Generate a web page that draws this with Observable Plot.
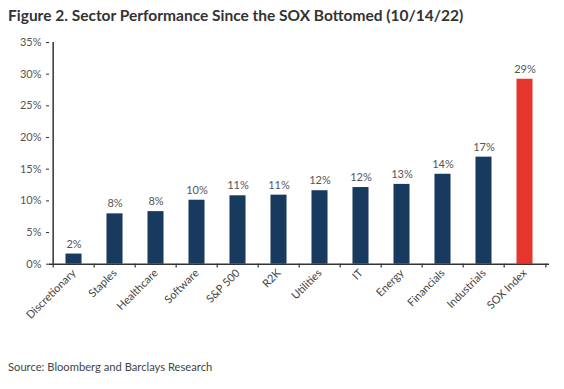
<!DOCTYPE html>
<html>
<head>
<meta charset="utf-8">
<script src="https://cdn.jsdelivr.net/npm/d3@7"></script>
<script src="https://cdn.jsdelivr.net/npm/@observablehq/plot@0.6"></script>
<style>
  html, body { margin: 0; padding: 0; background: #fff; }
  body { width: 564px; height: 389px; overflow: hidden; font-family: Lato, "Open Sans", sans-serif; }
  #title { height: 30px; box-sizing: border-box; padding: 5px 0 0 8px; font-size: 15.5px; line-height: 20px; font-weight: bold; color: #333; }
  #source { padding: 30px 0 0 8px; font-size: 11.2px; line-height: 14px; color: #444; }
</style>
</head>
<body>
<div id="title">Figure 2. Sector Performance Since the SOX Bottomed (10/14/22)</div>
<div id="chart"></div>
<div id="source">Source: Bloomberg and Barclays Research</div>
<script>
const sectors = ["Discretionary", "Staples", "Healthcare", "Software", "S&P 500", "R2K", "Utilities", "IT", "Energy", "Financials", "Industrials", "SOX Index"];
const performance = [1.6, 7.95, 8.3, 10.1, 10.8, 10.9, 11.6, 12.1, 12.6, 14.2, 16.9, 29.2];
const highlight = ["SOX Index"];
const yTicks = [0, 5, 10, 15, 20, 25, 30, 35];

const data = sectors.map((s, i) => ({sector: s, value: performance[i]}));

const width = 564, marginLeft = 49, marginRight = 15;
const bw = (width - marginLeft - marginRight) / sectors.length;
const inset = (bw - 16.7) / 2;

const chart = Plot.plot({
  width,
  height: 300,
  marginLeft,
  marginRight,
  marginTop: 12,
  marginBottom: 66.3,
  style: {fontFamily: "Lato, 'Open Sans', sans-serif", fontSize: "11px", color: "#555", background: "#fff"},
  x: {domain: sectors, padding: 0, label: null},
  y: {domain: [0, 35], label: null},
  marks: [
    Plot.barY(data, {
      x: "sector", y: "value",
      fill: d => highlight.includes(d.sector) ? "#e6352b" : "#173a5e",
      insetLeft: inset, insetRight: inset
    }),
    Plot.text(data, {
      x: "sector", y: "value", text: d => Math.round(d.value) + "%",
      dy: -10, fill: "#555555", fontSize: 11
    }),
    Plot.axisY({ticks: yTicks, tickFormat: d => d + "%", tickSize: 3, tickPadding: 5, stroke: "#333", fill: "#555", fontSize: 11}),
    Plot.axisX({tickSize: 0, tickRotate: -45, tickPadding: 7, fill: "#444", fontSize: 11}),
    Plot.ruleX([sectors[0]], {dx: -bw / 2, y1: 0, y2: 35, stroke: "#333", strokeWidth: 1.5}),
    Plot.ruleY([0], {stroke: "#333", strokeWidth: 1.5}),
    Plot.ruleX(sectors, {dx: -bw / 2, y1: 0, y2: -0.6, stroke: "#333", strokeWidth: 1.2}),
    Plot.ruleX([sectors[sectors.length - 1]], {dx: bw / 2, y1: 0, y2: -0.6, stroke: "#333", strokeWidth: 1.2})
  ]
});
document.getElementById("chart").appendChild(chart);
</script>
</body>
</html>
